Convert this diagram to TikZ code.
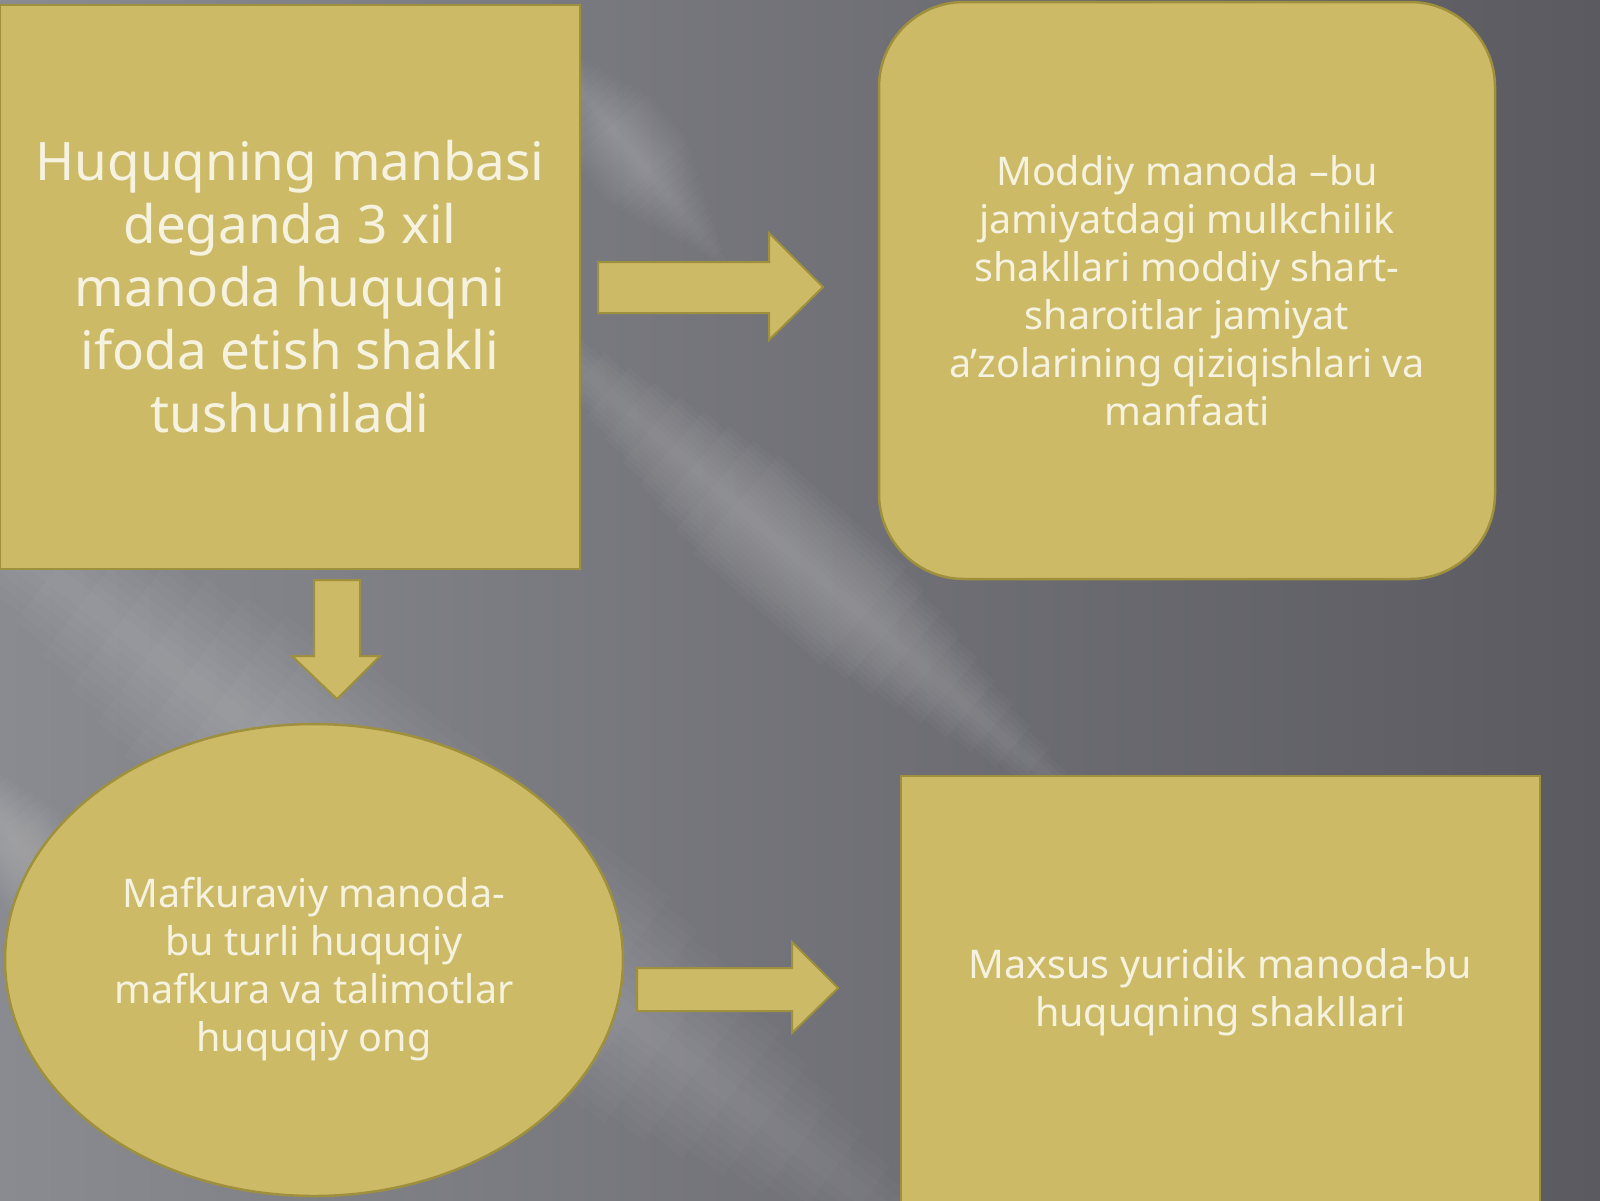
\documentclass[tikz,border=0pt]{standalone}
\usepackage{fontspec}
\setmainfont{Noto Sans}
\usetikzlibrary{shapes.geometric,calc}
\definecolor{bgA}{RGB}{138,139,145}
\definecolor{bgB}{RGB}{90,90,96}
\definecolor{boxfill}{RGB}{204,186,102}
\definecolor{boxedge}{RGB}{158,144,60}
\definecolor{txt}{RGB}{246,242,224}
% soft light ray: #1 start, #2 end, #3 half width, #4 opacity per layer, #5 end taper fraction
\newcommand{\lightray}[5]{%
 \foreach \k in {1,...,12}{%
  \pgfmathsetmacro{\rw}{#3*\k/12}%
  \pgfmathsetmacro{\rf}{#5*\k/12}%
  \coordinate (ra) at ($(#1)!\rf!(#2)$);
  \coordinate (rb) at ($(#2)!\rf!(#1)$);
  \fill[white,fill opacity=#4] ($(ra)!\rw pt!90:(rb)$) -- ($(rb)!\rw pt!-90:(ra)$) -- ($(rb)!\rw pt!90:(ra)$) -- ($(ra)!\rw pt!-90:(rb)$) -- cycle;
 }}
\tikzset{
  panel/.style={fill=boxfill, draw=boxedge, line width=2.5pt, text=txt, align=center, inner sep=0pt},
  bigtext/.style={font=\fontsize{53pt}{63pt}\selectfont},
  midtext/.style={font=\fontsize{39.5pt}{48pt}\selectfont},
  plaintext/.style={text=txt, align=center, inner sep=0pt},
  blockarrow/.style={fill=boxfill, draw=boxedge, line width=2pt, line join=miter}
}
\begin{document}
\begin{tikzpicture}[x=1pt,y=-1pt]
\useasboundingbox (0,0) rectangle (1600,1200);
% background
\shade[left color=bgA, right color=bgB] (0,0) rectangle (1600,1200);
\lightray{-150,420}{1000,1300}{120}{0.02}{0.35}
\lightray{480,280}{1120,840}{65}{0.022}{0.4}
\lightray{530,30}{730,270}{50}{0.018}{0.4}
\lightray{-80,720}{150,1010}{50}{0.018}{0.4}

% boxes
\node[panel, bigtext, minimum width=580pt, minimum height=564pt] (src) at (290,287)
  {Huquqning manbasi\\deganda 3 xil\\manoda huquqni\\ifoda etish shakli\\tushuniladi};
\node[panel, midtext, rounded corners=85pt, minimum width=616pt, minimum height=577pt] (mod) at (1187,290.5)
  {Moddiy manoda –bu\\jamiyatdagi mulkchilik\\shakllari moddiy shart-\\sharoitlar jamiyat\\a’zolarining qiziqishlari va\\manfaati};
\node[panel, ellipse, minimum width=618pt, minimum height=472pt] (maf) at (314,960) {};
\node[plaintext, midtext] (maftext) at (314,969)
  {Mafkuraviy manoda-\\bu turli huquqiy\\mafkura va talimotlar\\huquqiy ong};
\node[panel, midtext, minimum width=639pt, minimum height=432pt] (max) at (1220.5,992)
  {Maxsus yuridik manoda-bu\\huquqning shakllari};

% block arrows
\coordinate (a1) at (823,287);
\coordinate (a2) at (337,699);
\coordinate (a3) at (838,988);
\path[blockarrow] (598,262) -- (769,262) -- (769,233) -- (a1) -- (769,340) -- (769,313) -- (598,313) -- cycle;
\path[blockarrow] (314,580) -- (360,580) -- (360,656) -- (380,656) -- (a2) -- (292,656) -- (314,656) -- cycle;
\path[blockarrow] (637,968) -- (792,968) -- (792,942) -- (a3) -- (792,1033) -- (792,1011) -- (637,1011) -- cycle;
\end{tikzpicture}
\end{document}
